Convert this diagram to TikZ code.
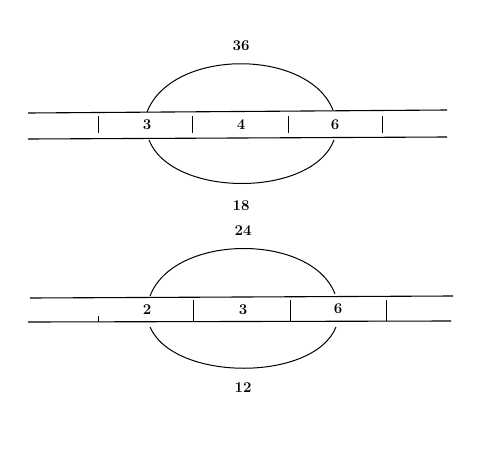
\documentclass[tikz,border=0pt]{standalone}
\usepackage{fontspec}
\usepackage{tikz}
\usetikzlibrary{positioning}

\begin{document}
\begin{tikzpicture}[x=1pt, y=-1pt,
				rail/.style={line width=1.1pt},
				tick/.style={line width=1.0pt},
				arc/.style={line width=1.0pt},
				num/.style={font=\fontsize{15}{17}\selectfont\bfseries, inner sep=1pt}]
				\useasboundingbox (0,0) rectangle (493,450);
				% upper figure
				\coordinate (ul1) at (28,113);
				\coordinate (ur1) at (447,110);
				\coordinate (ul2) at (28,139);
				\coordinate (ur2) at (447,137);
				\draw[rail] (ul1) -- (ur1);
				\draw[rail] (ul2) -- (ur2);
				\foreach \x in {98,192,288,382} \draw[tick] (\x,116) -- (\x,133);
				\node at (147,125) (ua) [num] {3};
				\node at (241,125) (ub) [num] {4};
				\node at (335,125) (uc) [num] {6};
				\node at (241,46) (utop) [num] {36};
				\node at (241,206) (ubot) [num] {18};
				\coordinate (ua1) at (147,112);
				\coordinate (uc1) at (333,110);
				\coordinate (ua2) at (149,140);
				\coordinate (uc2) at (334,140);
				\draw[arc] (ua1) .. controls (172,48) and (308,48) .. (uc1);
				\draw[arc] (ua2) .. controls (172,198) and (312,198) .. (uc2);
				% lower figure
				\coordinate (ll1) at (30,298);
				\coordinate (lr1) at (453,296);
				\coordinate (ll2) at (28,322);
				\coordinate (lr2) at (451,321);
				\draw[rail] (ll1) -- (lr1);
				\draw[rail] (ll2) -- (lr2);
				\draw[tick] (98,316) -- (98,322);
				\foreach \x in {193,290,386} \draw[tick] (\x,300) -- (\x,321);
				\node at (147,310) (la) [num] {2};
				\node at (243,310) (lb) [num] {3};
				\node at (338,309) (lc) [num] {6};
				\node at (243,231) (ltop) [num] {24};
				\node at (243,388) (lbot) [num] {12};
				\coordinate (la1) at (150,296);
				\coordinate (lc1) at (335,294);
				\coordinate (la2) at (150,327);
				\coordinate (lc2) at (336,327);
				\draw[arc] (la1) .. controls (174,233) and (312,233) .. (lc1);
				\draw[arc] (la2) .. controls (174,382) and (314,382) .. (lc2);
			\end{tikzpicture}
\end{document}
